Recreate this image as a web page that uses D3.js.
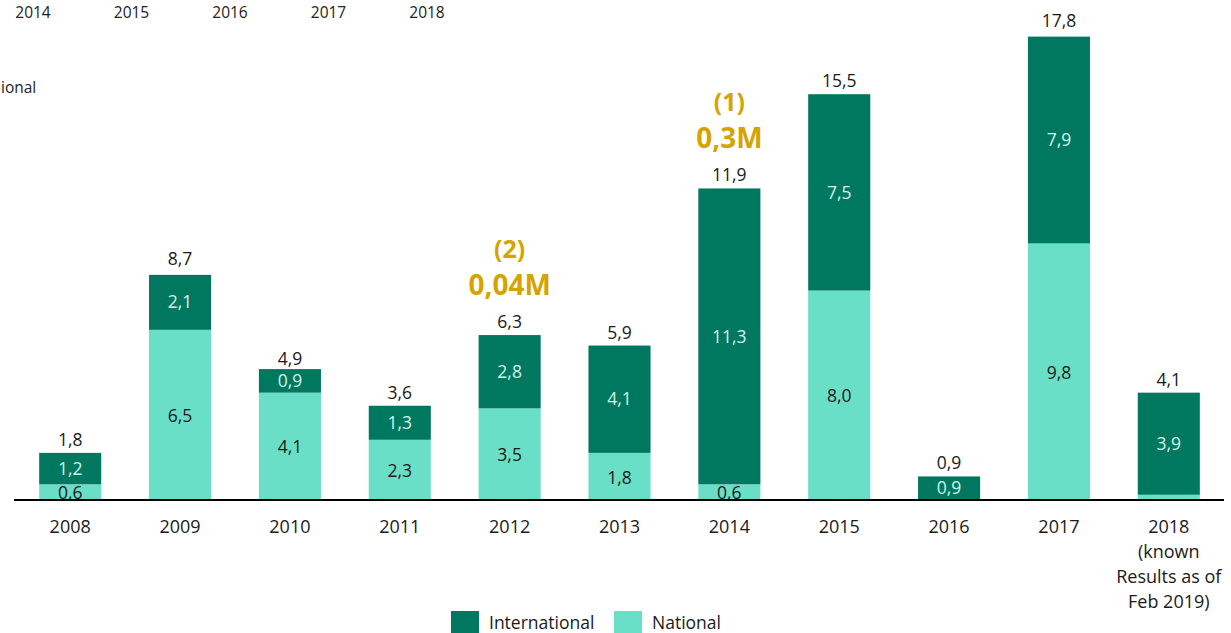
<!DOCTYPE html>
<html>
<head>
<meta charset="utf-8">
<script src="https://cdn.jsdelivr.net/npm/d3@7"></script>
<style>
  body { margin: 0; background: #fff; }
  svg { display: block; font-family: "Open Sans", "Noto Sans", sans-serif; }
</style>
</head>
<body>
<svg id="chart" width="1231" height="633"></svg>
<script>
// data
const years = ["2008", "2009", "2010", "2011", "2012", "2013", "2014", "2015", "2016", "2017", "2018"];
const national = [0.6, 6.5, 4.1, 2.3, 3.5, 1.8, 0.6, 8.0, 0, 9.8, 0.2];
const international = [1.2, 2.1, 0.9, 1.3, 2.8, 4.1, 11.3, 7.5, 0.9, 7.9, 3.9];
const totals = [1.8, 8.7, 4.9, 3.6, 6.3, 5.9, 11.9, 15.5, 0.9, 17.8, 4.1];
const nationalShown = [true, true, true, true, true, true, true, true, false, true, false];
const notes = [{ year: "2012", line1: "(2)", line2: "0,04M" }, { year: "2014", line1: "(1)", line2: "0,3M" }];
const strayYears = ["2014", "2015", "2016", "2017", "2018"];

const darkGreen = "#00785f";
const lightGreen = "#6adfc7";
const gold = "#d6a400";

const svg = d3.select("#chart");
const baseY = 500;

const x = d3.scaleBand()
    .domain(years)
    .range([15, 1224])
    .paddingInner(0.435)
    .paddingOuter(0.22);

const y = d3.scaleLinear()
    .domain([0, 17.8])
    .range([baseY, 34]);

const fmt = v => d3.format(".1f")(v).replace(".", ",");

// leftover text cut off at the top of the slide
svg.selectAll(".stray")
    .data(strayYears)
    .join("text")
    .attr("x", (d, i) => 33 + i * 98.5)
    .attr("y", 18)
    .attr("text-anchor", "middle")
    .style("font-size", "15.5px")
    .style("fill", "#222")
    .text(d => d);

svg.append("text")
    .attr("x", 1)
    .attr("y", 93)
    .style("font-size", "15.5px")
    .style("fill", "#222")
    .text("ional");

const rows = years.map((yr, i) => ({ yr, nat: national[i], intl: international[i], tot: totals[i], show: nationalShown[i] }));

const g = svg.append("g");

// national segments
g.selectAll(".nat")
    .data(rows)
    .join("rect")
    .attr("class", "nat")
    .attr("x", d => x(d.yr))
    .attr("width", x.bandwidth())
    .attr("y", d => y(d.nat))
    .attr("height", d => baseY - y(d.nat))
    .attr("fill", lightGreen);

// international segments
g.selectAll(".intl")
    .data(rows)
    .join("rect")
    .attr("class", "intl")
    .attr("x", d => x(d.yr))
    .attr("width", x.bandwidth())
    .attr("y", d => y(d.nat + d.intl))
    .attr("height", d => y(d.nat) - y(d.nat + d.intl))
    .attr("fill", darkGreen);

// segment labels
g.selectAll(".natLabel")
    .data(rows.filter(d => d.show))
    .join("text")
    .attr("x", d => x(d.yr) + x.bandwidth() / 2)
    .attr("y", d => (baseY + y(d.nat)) / 2 + 1)
    .attr("dy", "0.35em")
    .attr("text-anchor", "middle")
    .style("font-size", "17.5px")
    .style("fill", "#1a1a1a")
    .text(d => fmt(d.nat));

g.selectAll(".intlLabel")
    .data(rows)
    .join("text")
    .attr("x", d => x(d.yr) + x.bandwidth() / 2)
    .attr("y", d => (y(d.nat) + y(d.nat + d.intl)) / 2)
    .attr("dy", "0.35em")
    .attr("text-anchor", "middle")
    .style("font-size", "17.5px")
    .style("fill", "#d3f3ec")
    .text(d => fmt(d.intl));

// totals
g.selectAll(".total")
    .data(rows)
    .join("text")
    .attr("x", d => x(d.yr) + x.bandwidth() / 2)
    .attr("y", d => y(d.tot) - 7)
    .attr("text-anchor", "middle")
    .style("font-size", "17.5px")
    .style("fill", "#1a1a1a")
    .text(d => fmt(d.tot));

// baseline
svg.append("line")
    .attr("x1", 14).attr("x2", 1224)
    .attr("y1", baseY).attr("y2", baseY)
    .attr("stroke", "#000")
    .attr("stroke-width", 2);

// x axis labels
const xLabels = svg.selectAll(".xlab")
    .data(years)
    .join("text")
    .attr("x", d => x(d) + x.bandwidth() / 2)
    .attr("y", 533)
    .attr("text-anchor", "middle")
    .style("font-size", "18px")
    .style("fill", "#1a1a1a");

xLabels.each(function(d) {
    const lines = d === "2018" ? ["2018", "(known", "Results as of", "Feb 2019)"] : [d];
    d3.select(this).selectAll("tspan")
        .data(lines)
        .join("tspan")
        .attr("x", x(d) + x.bandwidth() / 2)
        .attr("dy", (l, i) => i === 0 ? 0 : 25)
        .text(l => l);
});

// annotations
notes.forEach(n => {
    const i = years.indexOf(n.year);
    const cx = x(n.year) + x.bandwidth() / 2;
    const top = y(totals[i]);
    svg.append("text")
        .attr("x", cx).attr("y", top - 77)
        .attr("text-anchor", "middle")
        .style("font-size", "25px").style("font-weight", "bold")
        .style("fill", gold)
        .text(n.line1);
    svg.append("text")
        .attr("x", cx).attr("y", top - 40)
        .attr("text-anchor", "middle")
        .style("font-size", "28px").style("font-weight", "bold")
        .style("fill", gold)
        .text(n.line2);
});

// legend
const legend = [{ name: "International", color: darkGreen, x: 451 }, { name: "National", color: lightGreen, x: 614 }];
const lg = svg.selectAll(".legend")
    .data(legend)
    .join("g")
    .attr("transform", d => `translate(${d.x},611)`);
lg.append("rect")
    .attr("width", 28).attr("height", 22)
    .attr("fill", d => d.color);
lg.append("text")
    .attr("x", 38).attr("y", 18)
    .style("font-size", "17.5px")
    .style("fill", "#1a1a1a")
    .text(d => d.name);
</script>
</body>
</html>
